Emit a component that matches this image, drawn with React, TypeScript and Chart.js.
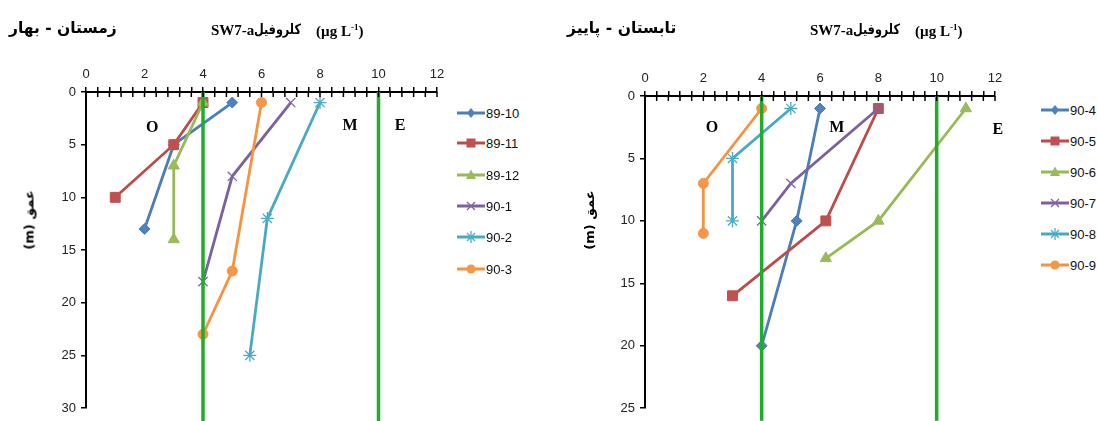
import React, { useEffect, useRef } from 'react';
import { Chart, registerables } from 'chart.js';

Chart.register(...registerables);

// ---------- data ----------
const winterLabels = ['89-10', '89-11', '89-12', '90-1', '90-2', '90-3'];
const winterChl = [
  [5, 3, 2],
  [4, 3, 1],
  [4, 3, 3],
  [7, 5, 4],
  [8, 6.2, 5.6],
  [6, 5, 4],
];
const winterDepth = [
  [1, 5, 13],
  [1, 5, 10],
  [1, 7, 14],
  [1, 8, 18],
  [1, 12, 25],
  [1, 17, 23],
];

const summerLabels = ['90-4', '90-5', '90-6', '90-7', '90-8', '90-9'];
const summerChl = [
  [6, 5.2, 4],
  [8, 6.2, 3],
  [11, 8, 6.2],
  [8, 5, 4],
  [5, 3, 3],
  [4, 2, 2],
];
const summerDepth = [
  [1, 10, 20],
  [1, 10, 16],
  [1, 10, 13],
  [1, 7, 10],
  [1, 5, 10],
  [1, 7, 11],
];

const thresholds = [4, 10];
const zoneNames = ['O', 'M', 'E'];
const winterZoneAt = [[2.26, 3.4], [9.03, 3.2], [10.74, 3.2]];
const summerZoneAt = [[2.3, 2.55], [6.58, 2.55], [12.1, 2.7]];

// ---------- styles ----------
const seriesStyles = [
  { line: '#4A7EBB', marker: '#4F81BD', point: 'rectRot', r: 5.5 },
  { line: '#BE4B48', marker: '#C0504D', point: 'rect', r: 7 },
  { line: '#98B954', marker: '#9BBB59', point: 'triangle', r: 6.5 },
  { line: '#7D60A0', marker: '#8064A2', point: 'crossRot', r: 6.5 },
  { line: '#46AAC5', marker: '#4BACC6', point: 'star', r: 6.5 },
  { line: '#F69240', marker: '#F79646', point: 'circle', r: 5 },
];
const GREEN = '#1EAD2B';
const TICK_FONT = '"Liberation Sans Narrow", "Liberation Sans", Arial, sans-serif';
const ARABIC_FONT = '"DejaVu Sans", sans-serif';
const SERIF = '"Liberation Serif", "Times New Roman", serif';

const axisDecor = {
  id: 'axisDecor',
  afterDraw(chart: any, _args: any, opts: any) {
    const { ctx, chartArea, scales } = chart;
    const xs = scales.x;
    const ys = scales.y;
    ctx.save();
    ctx.strokeStyle = '#000';
    ctx.lineWidth = 1.5;
    xs.ticks.forEach((t: any) => {
      const px = xs.getPixelForValue(t.value);
      ctx.beginPath();
      ctx.moveTo(px, chartArea.top);
      ctx.lineTo(px, chartArea.top + 5);
      ctx.stroke();
    });
    ctx.fillStyle = '#000';
    ctx.font = 'bold 16px ' + SERIF;
    ctx.textAlign = 'center';
    ctx.textBaseline = 'middle';
    (opts.zones || []).forEach((z: any) => {
      ctx.fillText(z.text, xs.getPixelForValue(z.x), ys.getPixelForValue(z.y));
    });
    ctx.restore();
  },
};

type PanelProps = {
  left: number;
  width: number;
  labels: string[];
  chl: number[][];
  depth: number[][];
  yMax: number;
  lineEnd: number;
  pad: { left: number; right: number; top: number; bottom: number };
  zoneAt: number[][];
};

function Panel(p: PanelProps) {
  const ref = useRef<HTMLCanvasElement | null>(null);
  useEffect(() => {
    if (!ref.current) return;
    const datasets: any[] = thresholds.map((t) => ({
      label: 'limit ' + t,
      data: [
        { x: t, y: 0 },
        { x: t, y: p.lineEnd },
      ],
      showLine: true,
      borderColor: GREEN,
      borderWidth: 3.5,
      pointRadius: 0,
      clip: false,
      order: -1,
    }));
    p.labels.forEach((lab, i) => {
      const s = seriesStyles[i];
      datasets.push({
        label: lab,
        data: p.chl[i].map((v, j) => ({ x: v, y: p.depth[i][j] })),
        showLine: true,
        borderColor: s.line,
        borderWidth: 2.8,
        pointStyle: s.point,
        pointRadius: s.r,
        pointBackgroundColor: s.marker,
        pointBorderColor: s.marker,
        pointBorderWidth: s.point === 'crossRot' || s.point === 'star' ? 1.3 : 1,
        order: 10 - i,
      });
    });
    const chart = new Chart(ref.current, {
      type: 'scatter',
      data: { datasets },
      plugins: [axisDecor as any],
      options: {
        animation: false,
        responsive: false,
        events: [],
        layout: { padding: p.pad },
        plugins: {
          legend: { display: false },
          tooltip: { enabled: false },
          axisDecor: {
            zones: zoneNames.map((n, i) => ({ text: n, x: p.zoneAt[i][0], y: p.zoneAt[i][1] })),
          },
        } as any,
        scales: {
          x: {
            type: 'linear',
            position: 'top',
            min: 0,
            max: 12,
            afterFit: (sc: any) => {
              sc.height = 30;
            },
            ticks: {
              stepSize: 0.4,
              autoSkip: false,
              maxRotation: 0,
              padding: 5,
              color: '#222',
              font: { family: TICK_FONT, size: 13 },
              callback: (v: any) => {
                const n = Number(v);
                return Math.abs(n / 2 - Math.round(n / 2)) < 1e-6 ? String(Math.round(n)) : '';
              },
            },
            grid: {
              drawOnChartArea: false,
              drawTicks: true,
              tickLength: 5,
              color: '#000',
              lineWidth: 1.5,
            },
            border: { display: true, color: '#000', width: 2 },
          },
          y: {
            type: 'linear',
            reverse: true,
            min: 0,
            max: p.yMax,
            afterFit: (sc: any) => {
              sc.width = 40;
            },
            ticks: {
              stepSize: 5,
              padding: 5,
              color: '#222',
              font: { family: TICK_FONT, size: 13 },
            },
            grid: {
              drawOnChartArea: false,
              drawTicks: true,
              tickLength: 5,
              color: '#000',
              lineWidth: 1.5,
            },
            border: { display: true, color: '#000', width: 2 },
          },
        },
      },
    });
    return () => chart.destroy();
  }, []);
  return (
    <canvas
      ref={ref}
      width={p.width}
      height={421}
      style={{ position: 'absolute', left: p.left, top: 0, width: p.width, height: 421 }}
    />
  );
}

function Marker({ kind, color }: { kind: string; color: string }) {
  const cx = 14;
  const cy = 7;
  let m: any = null;
  if (kind === 'rectRot') m = <polygon points={`${cx},${cy - 5} ${cx + 4},${cy} ${cx},${cy + 5} ${cx - 4},${cy}`} fill={color} />;
  else if (kind === 'rect') m = <rect x={cx - 4.5} y={cy - 4.5} width={9} height={9} fill={color} />;
  else if (kind === 'triangle') m = <polygon points={`${cx},${cy - 5.5} ${cx + 5},${cy + 4} ${cx - 5},${cy + 4}`} fill={color} />;
  else if (kind === 'crossRot')
    m = (
      <g stroke={color} strokeWidth={1.3}>
        <line x1={cx - 4} y1={cy - 4} x2={cx + 4} y2={cy + 4} />
        <line x1={cx - 4} y1={cy + 4} x2={cx + 4} y2={cy - 4} />
      </g>
    );
  else if (kind === 'star')
    m = (
      <g stroke={color} strokeWidth={1.3}>
        <line x1={cx - 4} y1={cy - 4} x2={cx + 4} y2={cy + 4} />
        <line x1={cx - 4} y1={cy + 4} x2={cx + 4} y2={cy - 4} />
        <line x1={cx} y1={cy - 6} x2={cx} y2={cy + 6} />
      </g>
    );
  else m = <circle cx={cx} cy={cy} r={4.5} fill={color} />;
  return m;
}

function Legend({ left, tops, labels }: { left: number; tops: number[]; labels: string[] }) {
  return (
    <>
      {labels.map((lab, i) => (
        <div
          key={lab}
          style={{
            position: 'absolute',
            left,
            top: tops[i] - 7,
            height: 14,
            display: 'flex',
            alignItems: 'center',
            font: '13px ' + TICK_FONT,
            color: '#111',
            whiteSpace: 'nowrap',
          }}
        >
          <svg width={28} height={14} style={{ display: 'block' }}>
            <line x1={0} y1={7} x2={28} y2={7} stroke={seriesStyles[i].line} strokeWidth={3} />
            <Marker kind={seriesStyles[i].point} color={seriesStyles[i].marker} />
          </svg>
          <span style={{ marginLeft: 1 }}>{lab}</span>
        </div>
      ))}
    </>
  );
}

function Titles({ season, seasonLeft, sw, ar, unit, yTitleX }: any) {
  const base: any = { position: 'absolute', whiteSpace: 'nowrap', color: '#000', fontWeight: 'bold' };
  return (
    <>
      <div style={{ ...base, left: seasonLeft, top: 19, font: 'bold 15.5px ' + ARABIC_FONT, direction: 'rtl' }}>{season}</div>
      <div style={{ ...base, left: sw, top: 22, font: 'bold 15px ' + SERIF }}>SW7-a</div>
      <div
        style={{
          ...base,
          left: ar,
          top: 21,
          font: 'bold 14px ' + ARABIC_FONT,
          direction: 'rtl',
          transform: 'scaleX(0.8)',
          transformOrigin: 'left center',
        }}
      >
        کلروفیل
      </div>
      <div style={{ ...base, left: unit, top: 22, font: 'bold 15px ' + SERIF }}>
        (µg L<sup style={{ fontSize: 9 }}>-1</sup>)
      </div>
      <div
        style={{
          ...base,
          left: yTitleX,
          top: 220,
          font: 'bold 13px ' + ARABIC_FONT,
          direction: 'rtl',
          transform: 'translate(-50%, -50%) rotate(-90deg)',
        }}
      >
        عمق (m)
      </div>
    </>
  );
}

export default function App() {
  useEffect(() => {
    document.body.style.margin = '0';
    document.body.style.background = '#fff';
  }, []);
  return (
    <div style={{ position: 'relative', width: 1097, height: 421, overflow: 'hidden', background: '#fff' }}>
      <Panel
        left={0}
        width={450}
        labels={winterLabels}
        chl={winterChl}
        depth={winterDepth}
        yMax={30}
        lineEnd={31.4}
        pad={{ left: 46, right: 13, top: 62, bottom: 13 }}
        zoneAt={winterZoneAt}
      />
      <Panel
        left={555}
        width={455}
        labels={summerLabels}
        chl={summerChl}
        depth={summerDepth}
        yMax={25}
        lineEnd={26}
        pad={{ left: 50, right: 15, top: 66, bottom: 11 }}
        zoneAt={summerZoneAt}
      />
      <Titles season="زمستان - بهار" seasonLeft={9} sw={211} ar={254} unit={316} yTitleX={29} />
      <Titles season="تابستان - پاییز" seasonLeft={567} sw={810} ar={853} unit={915} yTitleX={589} />
      <Legend left={457} tops={[113, 143, 175, 206, 237, 269]} labels={winterLabels} />
      <Legend left={1041} tops={[110, 141, 172, 203, 234, 265]} labels={summerLabels} />
    </div>
  );
}
